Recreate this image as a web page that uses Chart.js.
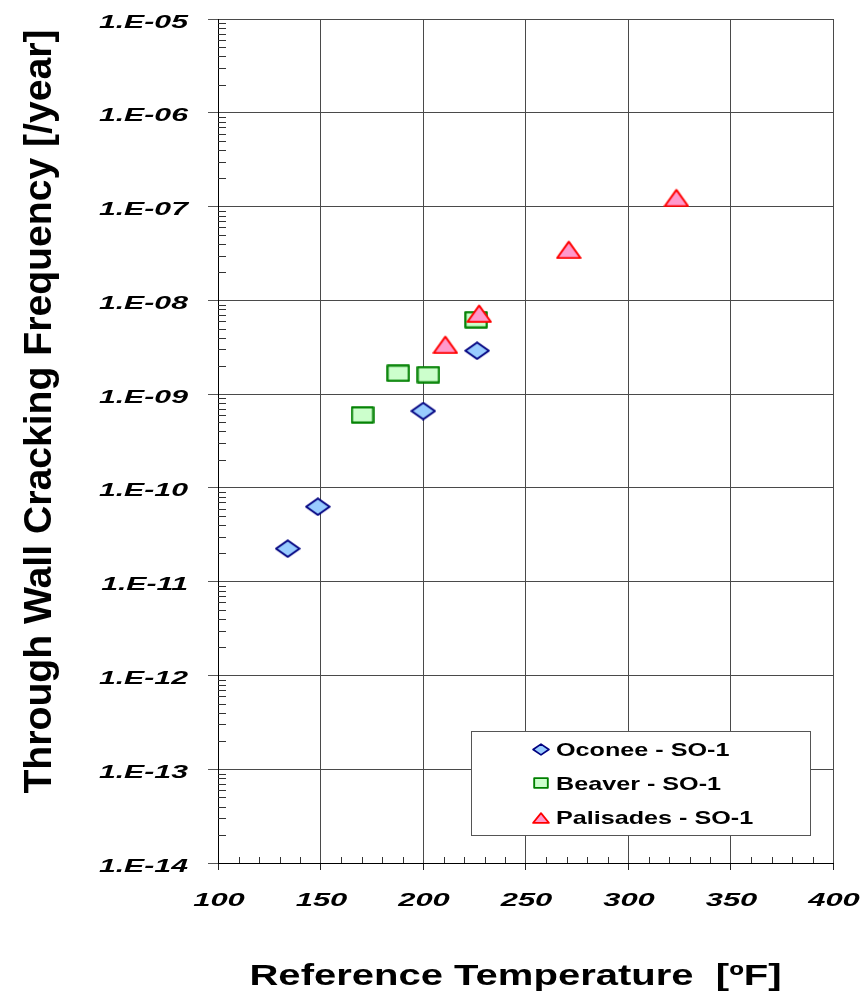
<!DOCTYPE html>
<html>
<head>
<meta charset="utf-8">
<title>Through Wall Cracking Frequency vs Reference Temperature</title>
<script src="https://cdn.jsdelivr.net/npm/chart.js@4.4.1/dist/chart.umd.min.js"></script>
<style>
  html, body { margin: 0; padding: 0; background: #ffffff; }
  canvas { display: block; }
</style>
</head>
<body>
<canvas id="chart" width="861" height="998"></canvas>
<script>
// Axis ticks and labels
const xTickValues = [100, 150, 200, 250, 300, 350, 400];
const xTickLabels = ['100', '150', '200', '250', '300', '350', '400'];
const yTickValues = [1e-14, 1e-13, 1e-12, 1e-11, 1e-10, 1e-9, 1e-8, 1e-7, 1e-6, 1e-5];
const yTickLabels = ['1.E-14', '1.E-13', '1.E-12', '1.E-11', '1.E-10', '1.E-09', '1.E-08', '1.E-07', '1.E-06', '1.E-05'];

// Series
const seriesNames = ['Oconee - SO-1', 'Beaver - SO-1', 'Palisades - SO-1'];
const oconeeTemp = [134.0, 148.7, 200.1, 226.4];
const oconeeFreq = [2.25e-11, 6.3e-11, 6.6e-10, 2.9e-9];
const beaverTemp = [170.5, 187.9, 202.6, 225.9];
const beaverFreq = [6.0e-10, 1.67e-9, 1.61e-9, 6.2e-9];
const palisadesTemp = [210.9, 227.4, 271.1, 323.6];
const palisadesFreq = [3.4e-9, 7.3e-9, 3.5e-8, 1.25e-7];

const xTitle = 'Reference Temperature  [\u00BAF]';
const yTitle = 'Through Wall Cracking Frequency [/year]';

// Marker images (slightly wider than tall)
function markerCanvas(shape, w, h, fill, stroke, lw) {
  const c = document.createElement('canvas');
  c.width = w; c.height = h;
  const ctx = c.getContext('2d');
  const i = lw / 2 + 0.25;
  const L = i, R = w - i, T = i, B = h - i, cx = w / 2, cy = h / 2;
  ctx.beginPath();
  if (shape === 'diamond') {
    ctx.moveTo(cx, T); ctx.lineTo(R, cy); ctx.lineTo(cx, B); ctx.lineTo(L, cy);
  } else if (shape === 'square') {
    ctx.rect(L, T, R - L, B - T);
  } else {
    ctx.moveTo(cx, T + lw * 0.6); ctx.lineTo(R, B); ctx.lineTo(L, B);
  }
  ctx.closePath();
  ctx.fillStyle = fill;
  ctx.fill();
  ctx.lineWidth = lw;
  ctx.lineJoin = 'round';
  ctx.strokeStyle = stroke;
  ctx.stroke();
  return c;
}

const styles = [
  { shape: 'diamond', fill: '#99CCFF', stroke: '#000080', lw: 2.0, size: [26, 19], legend: [18, 13] },
  { shape: 'square',  fill: '#CCFFCC', stroke: '#008000', lw: 2.2, size: [24, 18], legend: [16, 12] },
  { shape: 'triangle', fill: '#FF99CC', stroke: '#FF0000', lw: 2.0, size: [26, 20], legend: [18, 13] }
];
const pointImages = styles.map(s => markerCanvas(s.shape, s.size[0], s.size[1], s.fill, s.stroke, s.lw));
const legendImages = styles.map(s => markerCanvas(s.shape, s.legend[0], s.legend[1], s.fill, s.stroke, s.lw * 0.85));

function toPoints(xs, ys) { return xs.map((x, i) => ({ x: x, y: ys[i] })); }

const BOLD = '"Liberation Sans", Arial, sans-serif';

function stretchedText(ctx, text, x, y, sx, align, font) {
  ctx.save();
  ctx.font = font;
  ctx.textAlign = align;
  ctx.textBaseline = 'alphabetic';
  ctx.fillStyle = '#000000';
  ctx.translate(x, y);
  ctx.scale(sx, 1);
  ctx.fillText(text, 0, 0);
  ctx.restore();
}

// Minor ticks, tick labels, titles and the boxed legend
const decorPlugin = {
  id: 'decor',
  beforeDatasetsDraw(chart) {
    const ctx = chart.ctx;
    const xs = chart.scales.x, ys = chart.scales.y;
    const area = chart.chartArea;
    ctx.save();
    ctx.strokeStyle = '#333333';
    ctx.lineWidth = 1;
    ctx.beginPath();
    for (let d = -14; d < -5; d++) {
      for (let k = 2; k <= 9; k++) {
        const py = Math.round(ys.getPixelForValue(k * Math.pow(10, d))) + 0.5;
        ctx.moveTo(area.left, py);
        ctx.lineTo(area.left + 8, py);
      }
    }
    for (let t = 110; t < 400; t += 10) {
      if (t % 50 === 0) continue;
      const px = Math.round(xs.getPixelForValue(t)) + 0.5;
      ctx.moveTo(px, area.bottom);
      ctx.lineTo(px, area.bottom - 6);
    }
    ctx.stroke();
    ctx.restore();
  },
  afterDraw(chart) {
    const ctx = chart.ctx;
    const xs = chart.scales.x, ys = chart.scales.y;
    const area = chart.chartArea;

    // tick labels
    yTickValues.forEach((v, i) => {
      const py = ys.getPixelForValue(v);
      stretchedText(ctx, yTickLabels[i], area.left - 30, py + 8.5, 1.68, 'right', 'italic bold 18px ' + BOLD);
    });
    xTickValues.forEach((v, i) => {
      const px = xs.getPixelForValue(v);
      stretchedText(ctx, xTickLabels[i], px + 1, area.bottom + 43, 1.72, 'center', 'italic bold 18px ' + BOLD);
    });

    // axis titles
    stretchedText(ctx, xTitle, 515.5, 985, 1.38, 'center', 'bold 29px ' + BOLD);
    ctx.save();
    ctx.translate(51, 411.5);
    ctx.rotate(-Math.PI / 2);
    ctx.scale(1.03, 1);
    ctx.font = 'bold 38px ' + BOLD;
    ctx.textAlign = 'center';
    ctx.textBaseline = 'alphabetic';
    ctx.fillStyle = '#000000';
    ctx.fillText(yTitle, 0, 0);
    ctx.restore();

    // legend box inside the plot
    const bx = 471.5, by = 731.5, bw = 339, bh = 104;
    ctx.save();
    ctx.fillStyle = '#ffffff';
    ctx.fillRect(bx, by, bw, bh);
    ctx.strokeStyle = '#555555';
    ctx.lineWidth = 1;
    ctx.strokeRect(bx, by, bw, bh);
    ctx.restore();
    const rowMid = [749.5, 783, 817.5];
    chart.data.datasets.forEach((ds, i) => {
      const img = legendImages[i];
      ctx.drawImage(img, Math.round(540.5 - img.width / 2), Math.round(rowMid[i] - img.height / 2));
      stretchedText(ctx, ds.label, 556, rowMid[i] + 6.5, 1.36, 'left', 'bold 18.5px ' + BOLD);
    });
  }
};

new Chart(document.getElementById('chart'), {
  type: 'scatter',
  data: {
    datasets: [
      { label: seriesNames[0], data: toPoints(oconeeTemp, oconeeFreq), pointStyle: pointImages[0], pointRadius: 12, order: 2 },
      { label: seriesNames[1], data: toPoints(beaverTemp, beaverFreq), pointStyle: pointImages[1], pointRadius: 12, order: 1 },
      { label: seriesNames[2], data: toPoints(palisadesTemp, palisadesFreq), pointStyle: pointImages[2], pointRadius: 12, order: 0 }
    ]
  },
  options: {
    responsive: false,
    devicePixelRatio: 1,
    animation: false,
    events: [],
    layout: { padding: { top: 19, right: 28, left: 0, bottom: 0 } },
    plugins: { legend: { display: false }, tooltip: { enabled: false } },
    scales: {
      x: {
        type: 'linear',
        min: 100,
        max: 400,
        afterBuildTicks: (axis) => { axis.ticks = xTickValues.map(v => ({ value: v })); },
        afterFit: (axis) => { axis.height = 135; },
        ticks: { display: false },
        grid: { color: '#4a4a4a', lineWidth: 1, tickLength: 7, tickColor: '#222222' },
        border: { color: '#000000', width: 1 }
      },
      y: {
        type: 'logarithmic',
        min: 1e-14,
        max: 1e-5,
        afterBuildTicks: (axis) => { axis.ticks = yTickValues.map(v => ({ value: v })); },
        afterFit: (axis) => { axis.width = 218; },
        ticks: { display: false },
        grid: { color: '#4a4a4a', lineWidth: 1, tickLength: 10, tickColor: '#555555' },
        border: { color: '#000000', width: 1 }
      }
    }
  },
  plugins: [decorPlugin]
});
</script>
</body>
</html>
